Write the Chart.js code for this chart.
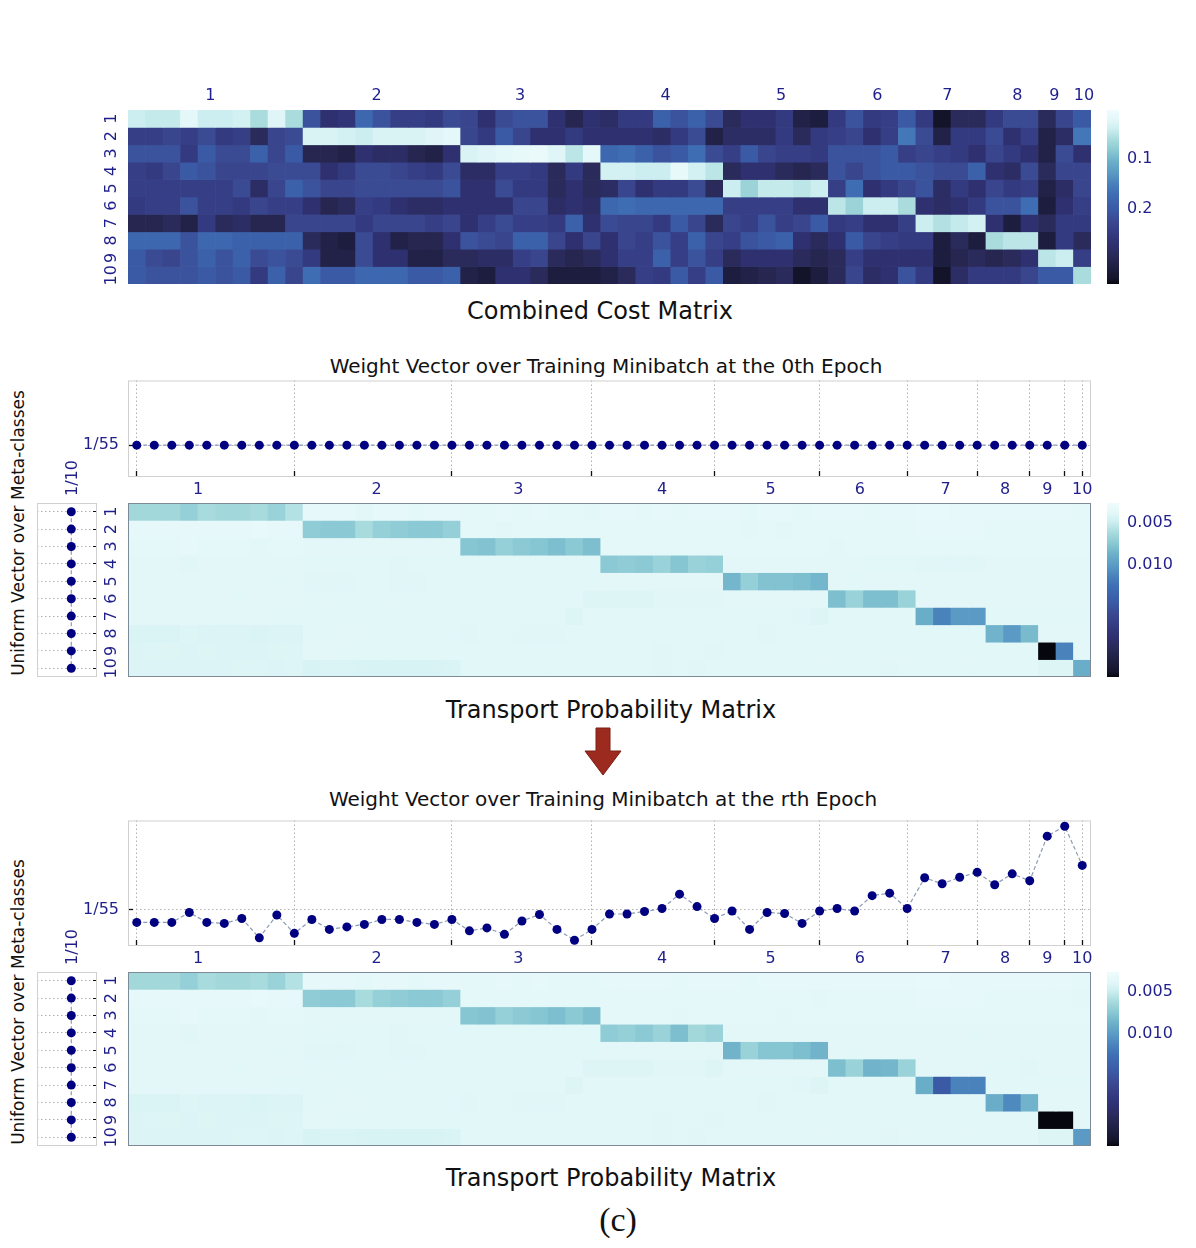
<!DOCTYPE html>
<html>
<head>
<meta charset="utf-8">
<title>Cost matrix, weight vectors and transport matrices</title>
<script src="https://cdn.jsdelivr.net/npm/chart.js@4.4.1/dist/chart.umd.min.js"></script>
<style>
body{margin:0;width:1196px;height:1248px;position:relative;background:#fff;font-family:"DejaVu Sans",sans-serif;overflow:hidden}
.pane{position:absolute}
.pane canvas{display:block}
.ttl{position:absolute;transform:translate(-50%,-50%);white-space:nowrap;color:#111}
.side{position:absolute;transform:translate(-50%,-50%) rotate(-90deg);white-space:nowrap;font-size:17px;color:#111}
</style>
</head>
<body>
<div class="ttl" style="left:600px;top:311px;font-size:24px">Combined Cost Matrix</div>
<div class="ttl" style="left:606px;top:366px;font-size:20px">Weight Vector over Training Minibatch at the 0th Epoch</div>
<div class="ttl" style="left:611px;top:710px;font-size:24px">Transport Probability Matrix</div>
<div class="ttl" style="left:603px;top:799px;font-size:20px">Weight Vector over Training Minibatch at the rth Epoch</div>
<div class="ttl" style="left:611px;top:1178px;font-size:24px">Transport Probability Matrix</div>
<div class="ttl" style="left:618px;top:1220px;font-size:34px;font-family:'Liberation Serif',serif">(c)</div>
<div class="side" style="left:18px;top:533px">Uniform Vector over Meta-classes</div>
<div class="side" style="left:18px;top:1002px">Uniform Vector over Meta-classes</div>
<svg style="position:absolute;left:580px;top:724px" width="46" height="56"><polygon points="16,4 30,4 30,27 41,27 23,51 5,27 16,27" fill="#9c2a1e" stroke="#7a1e14" stroke-width="1"/></svg>
<script>
// meta-classes and how many training samples of the minibatch fall in each
const groupLabels = ['1','2','3','4','5','6','7','8','9','10'];
const groupSizes = [10, 9, 8, 7, 6, 5, 4, 3, 2, 1];
const rowLabels = ['1','2','3','4','5','6','7','8','9','10'];
// where the group labels sit, in sample-index units
const costLabelPos = [4.2, 13.7, 21.9, 30.2, 36.8, 42.3, 46.3, 50.3, 52.4, 54.1];
const weightLabelPos = [3.5, 13.7, 21.8, 30.0, 36.2, 41.3, 46.2, 49.6, 52.0, 54.0];

// combined cost matrix (rows = meta-classes, 55 columns)
const costR1 = [.04,.045,.045,.02,.04,.04,.035,.06,.025,.06, .21,.27,.26,.18,.21,.24,.24,.25,.22, .23,.27,.22,.21,.21,.27,.30,.27, .28,.25,.25,.19,.21,.19,.22, .29,.27,.27,.25,.31,.32, .25,.21,.25,.24,.20, .25,.34,.29,.29, .25,.22,.22, .29,.23, .20];
const costR2 = [.24,.24,.23,.24,.22,.25,.24,.29,.23,.22, .03,.03,.035,.04,.03,.03,.03,.025,.02, .23,.25,.20,.23,.27,.27,.25,.27, .27,.27,.27,.28,.25,.22,.31, .28,.28,.28,.25,.29,.25, .24,.23,.27,.24,.16, .22,.31,.25,.25, .22,.27,.24, .31,.28, .16];
const costR3 = [.21,.21,.21,.25,.20,.22,.22,.19,.23,.20, .30,.30,.31,.27,.28,.28,.30,.31,.27, .03,.025,.02,.015,.01,.025,.05,.02, .18,.17,.19,.21,.20,.17,.22, .24,.20,.23,.24,.24,.25, .21,.21,.21,.20,.24, .23,.24,.25,.27, .23,.25,.27, .31,.22, .27];
const costR4 = [.24,.25,.23,.20,.21,.23,.23,.23,.22,.22, .22,.27,.25,.22,.22,.23,.24,.25,.22, .28,.28,.24,.24,.25,.29,.25,.29, .035,.035,.04,.04,.015,.035,.05, .29,.27,.27,.29,.30,.29, .21,.23,.21,.20,.20, .21,.22,.22,.19, .27,.28,.22, .29,.23, .23];
const costR5 = [.24,.24,.24,.24,.24,.24,.22,.28,.23,.19, .21,.23,.23,.22,.22,.22,.22,.22,.21, .27,.27,.22,.25,.25,.29,.27,.29, .28,.23,.27,.25,.25,.22,.29, .04,.07,.045,.045,.05,.04, .24,.17,.27,.25,.23, .21,.28,.25,.27, .23,.25,.24, .31,.28, .23];
const costR6 = [.25,.24,.24,.21,.24,.24,.25,.23,.24,.24, .27,.30,.29,.24,.25,.27,.28,.28,.27, .27,.27,.27,.23,.23,.28,.27,.28, .18,.17,.18,.18,.18,.18,.18, .24,.24,.24,.24,.27,.27, .05,.07,.04,.04,.06, .27,.28,.27,.25, .21,.21,.17, .32,.27, .24];
const costR7 = [.30,.30,.29,.31,.25,.29,.28,.30,.30,.23, .23,.23,.23,.25,.23,.23,.23,.24,.23, .27,.24,.22,.24,.24,.25,.19,.27, .22,.23,.23,.25,.20,.23,.29, .23,.24,.21,.24,.23,.20, .25,.24,.27,.27,.24, .04,.055,.045,.035, .27,.32,.27, .29,.25, .25];
const costR8 = [.18,.18,.18,.21,.18,.18,.19,.19,.19,.19, .29,.31,.32,.22,.27,.31,.30,.30,.27, .21,.22,.23,.19,.19,.23,.27,.23, .27,.23,.24,.21,.24,.19,.23, .24,.21,.20,.19,.27,.29, .27,.20,.23,.24,.25, .25,.32,.29,.32, .06,.05,.05, .32,.25, .29];
const costR9 = [.20,.22,.23,.21,.19,.21,.19,.22,.21,.22, .25,.31,.31,.22,.27,.27,.31,.31,.29, .29,.28,.28,.24,.23,.29,.30,.29, .27,.24,.24,.19,.24,.21,.24, .29,.27,.27,.27,.29,.30, .29,.24,.27,.27,.27, .27,.32,.30,.29, .30,.29,.27, .05,.04, .24];
const costR10 = [.20,.21,.21,.21,.20,.21,.20,.25,.19,.23, .17,.20,.20,.18,.18,.18,.20,.20,.19, .31,.32,.27,.27,.29,.32,.32,.32, .31,.29,.24,.25,.20,.24,.20, .32,.31,.30,.29,.34,.32, .29,.23,.28,.27,.21, .25,.34,.28,.25, .25,.25,.23, .20,.20, .06];
const costMin = 0.002, costMax = 0.35;
const costTicks = [0.1, 0.2];
const costTickLabels = ['0.1', '0.2'];

// weight vectors over the 55 training samples
const weight0 = [.01818,.01818,.01818,.01818,.01818,.01818,.01818,.01818,.01818,.01818, .01818,.01818,.01818,.01818,.01818,.01818,.01818,.01818,.01818, .01818,.01818,.01818,.01818,.01818,.01818,.01818,.01818, .01818,.01818,.01818,.01818,.01818,.01818,.01818, .01818,.01818,.01818,.01818,.01818,.01818, .01818,.01818,.01818,.01818,.01818, .01818,.01818,.01818,.01818, .01818,.01818,.01818, .01818,.01818, .01818];
const weightR = [.0156,.0156,.0156,.0176,.0156,.0154,.0164,.0125,.0171,.0134, .0162,.0142,.0147,.0152,.0162,.0162,.0156,.0152,.0162, .0139,.0145,.0132,.0159,.0172,.0142,.0120,.0142, .0173,.0173,.0178,.0184,.0213,.0188,.0164, .0179,.0142,.0176,.0174,.0154,.0179, .0184,.0179,.0210,.0215,.0184, .0246,.0234,.0247,.0257, .0232,.0254,.0240, .0330,.0350, .0271];
const weightTick = 1 / 55;
const weightTickLabel = '1/55';

// uniform vector over the 10 meta-classes
const uniformMeta = [0.1, 0.1, 0.1, 0.1, 0.1, 0.1, 0.1, 0.1, 0.1, 0.1];
const uniformTick = 0.1;
const uniformTickLabel = '1/10';

// transport probability matrix, 0th epoch
const p0R1 = [.0064,.0064,.0064,.0070,.0062,.0064,.0064,.0062,.0068,.0058, .0036,.0036,.0036,.0038,.0036,.0036,.0037,.0036,.0036, .0037,.0037,.0036,.0037,.0036,.0037,.0037,.0038, .0036,.0036,.0037,.0036,.0037,.0036,.0036, .0036,.0037,.0036,.0036,.0037,.0036, .0036,.0036,.0037,.0036,.0036, .0035,.0035,.0036,.0036, .0036,.0036,.0036, .0036,.0036, .0037];
const p0R2 = [.0036,.0036,.0036,.0036,.0036,.0036,.0036,.0035,.0036,.0036, .0072,.0074,.0074,.0062,.0070,.0072,.0074,.0074,.0070, .0037,.0037,.0038,.0037,.0037,.0037,.0037,.0037, .0037,.0037,.0037,.0037,.0037,.0037,.0037, .0037,.0038,.0037,.0038,.0037,.0037, .0037,.0037,.0037,.0037,.0037, .0036,.0036,.0036,.0036, .0037,.0037,.0037, .0037,.0037, .0037];
const p0R3 = [.0037,.0037,.0037,.0036,.0037,.0037,.0037,.0039,.0037,.0037, .0038,.0038,.0038,.0038,.0038,.0038,.0038,.0038,.0038, .0076,.0078,.0070,.0074,.0076,.0080,.0074,.0080, .0037,.0037,.0037,.0037,.0037,.0037,.0037, .0037,.0037,.0037,.0037,.0037,.0037, .0038,.0037,.0037,.0037,.0037, .0037,.0037,.0037,.0037, .0037,.0037,.0037, .0037,.0037, .0037];
const p0R4 = [.0038,.0038,.0038,.0040,.0038,.0038,.0038,.0038,.0038,.0038, .0039,.0039,.0039,.0039,.0039,.0040,.0039,.0039,.0039, .0039,.0039,.0039,.0039,.0039,.0039,.0039,.0039, .0074,.0072,.0074,.0068,.0076,.0068,.0070, .0038,.0038,.0038,.0038,.0038,.0038, .0038,.0038,.0039,.0039,.0039, .0040,.0040,.0040,.0040, .0038,.0038,.0038, .0038,.0038, .0038];
const p0R5 = [.0038,.0038,.0038,.0038,.0038,.0038,.0038,.0038,.0039,.0038, .0040,.0040,.0040,.0039,.0039,.0040,.0040,.0039,.0039, .0039,.0039,.0039,.0039,.0039,.0039,.0039,.0039, .0038,.0038,.0038,.0038,.0038,.0038,.0038, .0084,.0070,.0078,.0078,.0080,.0084, .0038,.0039,.0038,.0038,.0038, .0038,.0038,.0038,.0038, .0038,.0038,.0038, .0038,.0038, .0038];
const p0R6 = [.0038,.0038,.0038,.0038,.0038,.0038,.0039,.0038,.0038,.0038, .0039,.0039,.0039,.0039,.0039,.0039,.0039,.0039,.0039, .0039,.0039,.0039,.0039,.0039,.0039,.0039,.0041, .0041,.0041,.0041,.0040,.0040,.0040,.0040, .0038,.0038,.0038,.0038,.0038,.0038, .0080,.0068,.0080,.0080,.0068, .0038,.0038,.0038,.0038, .0038,.0038,.0038, .0038,.0038, .0038];
const p0R7 = [.0038,.0038,.0038,.0038,.0038,.0038,.0038,.0038,.0039,.0039, .0039,.0039,.0039,.0039,.0039,.0039,.0039,.0039,.0039, .0039,.0039,.0039,.0039,.0039,.0039,.0041,.0039, .0039,.0039,.0039,.0039,.0039,.0039,.0039, .0039,.0039,.0039,.0039,.0040,.0041, .0039,.0039,.0039,.0039,.0039, .0089,.0113,.0101,.0101, .0039,.0039,.0039, .0039,.0039, .0039];
const p0R8 = [.0043,.0043,.0043,.0041,.0042,.0042,.0042,.0043,.0042,.0042, .0039,.0039,.0038,.0039,.0039,.0039,.0039,.0039,.0039, .0040,.0039,.0039,.0040,.0040,.0040,.0039,.0039, .0039,.0039,.0039,.0039,.0039,.0039,.0039, .0039,.0039,.0040,.0039,.0039,.0039, .0039,.0039,.0039,.0039,.0039, .0039,.0039,.0039,.0039, .0086,.0101,.0082, .0038,.0038, .0038];
const p0R9 = [.0042,.0041,.0041,.0042,.0041,.0042,.0042,.0042,.0041,.0041, .0038,.0038,.0039,.0039,.0039,.0039,.0039,.0039,.0039, .0039,.0039,.0039,.0039,.0039,.0039,.0039,.0039, .0039,.0039,.0039,.0040,.0039,.0039,.0040, .0039,.0039,.0039,.0039,.0039,.0039, .0039,.0039,.0039,.0039,.0039, .0039,.0039,.0039,.0039, .0039,.0039,.0039, .0232,.0113, .0038];
const p0R10 = [.0042,.0042,.0042,.0042,.0042,.0042,.0041,.0041,.0042,.0041, .0044,.0043,.0043,.0044,.0044,.0044,.0044,.0044,.0043, .0039,.0039,.0039,.0039,.0039,.0039,.0039,.0039, .0039,.0039,.0039,.0040,.0039,.0040,.0039, .0039,.0039,.0039,.0039,.0039,.0039, .0039,.0039,.0039,.0040,.0039, .0039,.0039,.0039,.0039, .0039,.0039,.0039, .0041,.0041, .0089];

// transport probability matrix, rth epoch
const prR1 = [.0064,.0064,.0064,.0070,.0062,.0064,.0064,.0062,.0068,.0058, .0036,.0036,.0036,.0037,.0036,.0036,.0037,.0036,.0036, .0037,.0037,.0036,.0037,.0036,.0037,.0037,.0037, .0036,.0036,.0036,.0036,.0037,.0036,.0036, .0036,.0037,.0036,.0036,.0036,.0036, .0036,.0036,.0036,.0036,.0036, .0035,.0035,.0036,.0036, .0036,.0036,.0036, .0036,.0036, .0037];
const prR2 = [.0036,.0036,.0036,.0036,.0036,.0036,.0036,.0035,.0036,.0036, .0072,.0074,.0074,.0062,.0070,.0072,.0074,.0074,.0070, .0037,.0037,.0037,.0037,.0037,.0037,.0037,.0037, .0037,.0037,.0037,.0037,.0037,.0037,.0037, .0037,.0037,.0037,.0037,.0037,.0038, .0037,.0037,.0037,.0037,.0037, .0036,.0036,.0036,.0036, .0037,.0037,.0037, .0037,.0037, .0038];
const prR3 = [.0037,.0037,.0037,.0036,.0037,.0037,.0037,.0039,.0037,.0037, .0038,.0038,.0038,.0038,.0038,.0038,.0038,.0038,.0038, .0076,.0078,.0070,.0074,.0076,.0080,.0074,.0080, .0037,.0037,.0037,.0037,.0038,.0037,.0037, .0037,.0037,.0037,.0038,.0037,.0037, .0037,.0037,.0037,.0037,.0037, .0037,.0037,.0037,.0037, .0037,.0037,.0037, .0037,.0037, .0037];
const prR4 = [.0038,.0038,.0038,.0040,.0038,.0038,.0038,.0038,.0038,.0038, .0039,.0039,.0039,.0039,.0039,.0040,.0039,.0039,.0039, .0039,.0039,.0039,.0039,.0039,.0039,.0039,.0039, .0072,.0070,.0074,.0068,.0080,.0064,.0068, .0038,.0038,.0038,.0038,.0038,.0038, .0038,.0038,.0038,.0038,.0038, .0038,.0038,.0038,.0039, .0038,.0038,.0038, .0038,.0038, .0038];
const prR5 = [.0038,.0038,.0038,.0038,.0038,.0038,.0038,.0038,.0039,.0038, .0040,.0040,.0040,.0039,.0039,.0040,.0040,.0039,.0039, .0039,.0039,.0039,.0039,.0039,.0039,.0039,.0039, .0038,.0038,.0038,.0038,.0038,.0038,.0038, .0086,.0068,.0076,.0076,.0080,.0086, .0038,.0039,.0038,.0038,.0038, .0038,.0038,.0038,.0038, .0038,.0038,.0038, .0038,.0038, .0038];
const prR6 = [.0038,.0038,.0038,.0038,.0038,.0038,.0039,.0038,.0038,.0038, .0039,.0039,.0039,.0039,.0039,.0039,.0039,.0039,.0039, .0039,.0039,.0039,.0039,.0039,.0039,.0039,.0041, .0041,.0041,.0041,.0040,.0040,.0040,.0041, .0038,.0038,.0038,.0038,.0038,.0038, .0080,.0068,.0086,.0084,.0068, .0038,.0038,.0038,.0038, .0039,.0039,.0040, .0038,.0038, .0038];
const prR7 = [.0038,.0038,.0038,.0038,.0038,.0038,.0038,.0038,.0039,.0039, .0039,.0039,.0039,.0039,.0039,.0039,.0039,.0039,.0039, .0039,.0039,.0039,.0039,.0039,.0039,.0041,.0039, .0039,.0039,.0039,.0039,.0039,.0039,.0039, .0039,.0039,.0039,.0039,.0040,.0041, .0039,.0039,.0039,.0039,.0039, .0089,.0144,.0113,.0113, .0039,.0039,.0039, .0039,.0039, .0039];
const prR8 = [.0043,.0043,.0043,.0041,.0042,.0042,.0042,.0043,.0042,.0042, .0039,.0039,.0038,.0039,.0039,.0039,.0039,.0039,.0039, .0040,.0039,.0039,.0040,.0040,.0040,.0039,.0039, .0039,.0039,.0039,.0039,.0039,.0039,.0039, .0039,.0039,.0040,.0039,.0039,.0039, .0039,.0039,.0039,.0039,.0039, .0039,.0039,.0039,.0039, .0089,.0109,.0086, .0038,.0038, .0038];
const prR9 = [.0042,.0041,.0041,.0042,.0041,.0042,.0042,.0042,.0041,.0041, .0038,.0038,.0039,.0039,.0039,.0039,.0039,.0039,.0039, .0039,.0039,.0039,.0039,.0039,.0039,.0039,.0039, .0039,.0039,.0039,.0040,.0039,.0039,.0040, .0039,.0039,.0039,.0039,.0039,.0039, .0039,.0039,.0039,.0039,.0039, .0039,.0039,.0039,.0039, .0039,.0039,.0039, .0232,.0232, .0038];
const prR10 = [.0042,.0042,.0042,.0042,.0042,.0042,.0041,.0041,.0042,.0041, .0044,.0043,.0043,.0044,.0044,.0044,.0044,.0044,.0043, .0039,.0039,.0039,.0039,.0039,.0039,.0039,.0039, .0039,.0039,.0039,.0040,.0039,.0040,.0039, .0039,.0039,.0039,.0039,.0039,.0039, .0039,.0039,.0039,.0040,.0039, .0039,.0039,.0039,.0039, .0039,.0039,.0039, .0041,.0041, .0101];
const probMin = 0.0027, probMax = 0.0232;
const probTicks = [0.005, 0.010];
const probTickLabels = ['0.005', '0.010'];

const costRows = [costR1,costR2,costR3,costR4,costR5,costR6,costR7,costR8,costR9,costR10];
const prob0Rows = [p0R1,p0R2,p0R3,p0R4,p0R5,p0R6,p0R7,p0R8,p0R9,p0R10];
const probRRows = [prR1,prR2,prR3,prR4,prR5,prR6,prR7,prR8,prR9,prR10];

// sample labels and the last sample of each group, from the group sizes
const memberLabels = groupSizes.flatMap((n, g) => Array.from({length: n}, (_, k) => groupLabels[g] + '.' + (k + 1)));
const boundaries = [0];
let acc = 0;
groupSizes.forEach(n => { acc += n; boundaries.push(acc - 1); });

// reversed "ice"-like colour map
const iceStops = [[0,'#effcfd'],[0.05,'#e5f8f9'],[0.11,'#cdeef0'],[0.17,'#a8dbdd'],[0.24,'#86c6d2'],[0.30,'#6aaec8'],[0.36,'#5a9ac4'],[0.42,'#4a82bc'],[0.48,'#3e6eb4'],[0.57,'#3b5aa6'],[0.64,'#3a4890'],[0.71,'#343a80'],[0.77,'#2e3070'],[0.83,'#2a2a5a'],[0.91,'#1e1e40'],[0.97,'#14142a'],[1,'#06060e']];
function hex(h){ return [1,3,5].map(i => parseInt(h.slice(i, i + 2), 16)); }
function ice(t){
  t = Math.max(0, Math.min(1, t));
  for (let i = 1; i < iceStops.length; i++) {
    if (t <= iceStops[i][0]) {
      const [t0, c0] = iceStops[i - 1], [t1, c1] = iceStops[i];
      const f = (t - t0) / (t1 - t0), a = hex(c0), b = hex(c1);
      return 'rgb(' + a.map((x, k) => Math.round(x + (b[k] - x) * f)).join(',') + ')';
    }
  }
  return iceStops[iceStops.length - 1][1];
}

Chart.defaults.font.family = '"DejaVu Sans", sans-serif';
Chart.defaults.font.size = 16;
Chart.defaults.color = '#1f1f8c';
Chart.defaults.animation = false;
Chart.defaults.maintainAspectRatio = false;
Chart.defaults.plugins.legend.display = false;
Chart.defaults.plugins.tooltip.enabled = false;

Chart.register({
  id: 'frame',
  afterDraw(chart, args, opts){
    if (!opts.color) return;
    const {ctx, chartArea: a} = chart;
    ctx.save();
    ctx.strokeStyle = opts.color;
    ctx.lineWidth = 1;
    ctx.strokeRect(a.left + 0.5, a.top + 0.5, a.width - 1, a.height - 1);
    ctx.restore();
  }
});

function pane(left, top, width, height){
  const d = document.createElement('div');
  d.className = 'pane';
  d.style.cssText = `left:${left}px;top:${top}px;width:${width}px;height:${height}px`;
  const c = document.createElement('canvas');
  d.appendChild(c);
  document.body.appendChild(d);
  return c;
}
const fixW = w => s => { s.width = w; s.paddingTop = 0; s.paddingBottom = 0; };
const fixH = h => s => { s.height = h; s.paddingLeft = 0; s.paddingRight = 0; };
const dotted = [1.5, 2.5];

function groupAxis(position, height, padding, positions){
  return {
    type: 'linear', axis: 'x', position, min: -0.5, max: 54.5, offset: false, bounds: 'data',
    afterBuildTicks: s => { s.ticks = positions.map(v => ({value: v})); },
    ticks: {callback: (v, i) => groupLabels[i], minRotation: 0, maxRotation: 0, autoSkip: false, padding},
    grid: {display: false, drawTicks: false, offset: false}, border: {display: false},
    afterFit: fixH(height)
  };
}

function heatmap(canvas, rows, vmin, vmax, topLabels, frameColor, padTop, padBottom){
  const scales = {
    x: {type: 'category', display: false},
    y: {
      type: 'linear', min: 0.5, max: 10.5, reverse: true,
      afterBuildTicks: s => { s.ticks = rowLabels.map((_, i) => ({value: i + 1})); },
      ticks: {callback: (v, i) => rowLabels[i], minRotation: 90, maxRotation: 90, crossAlign: 'center', padding: 6, autoSkip: false},
      grid: {display: false, drawTicks: false}, border: {display: false},
      afterFit: fixW(40)
    }
  };
  if (topLabels) scales.xl = groupAxis('top', 28, 5, costLabelPos);
  new Chart(canvas, {
    type: 'bar',
    data: {
      labels: memberLabels,
      datasets: rows.map((vals, r) => ({
        data: vals.map(() => [r + 0.5, r + 1.5]),
        backgroundColor: vals.map(v => ice((v - vmin) / (vmax - vmin))),
        borderWidth: 0, barPercentage: 1, categoryPercentage: 1, grouped: false
      }))
    },
    options: {
      layout: {padding: {left: 0, top: padTop, right: 3, bottom: padBottom}},
      plugins: {frame: {color: frameColor}},
      scales
    }
  });
}

function colorbar(canvas, vmin, vmax, ticks, labels){
  new Chart(canvas, {
    type: 'bar',
    data: {labels: [''], datasets: [{
      data: [[vmin, vmax]], borderWidth: 0, barPercentage: 1, categoryPercentage: 1,
      backgroundColor: c => {
        const a = c.chart.chartArea;
        if (!a) return '#fff';
        const g = c.chart.ctx.createLinearGradient(0, a.top, 0, a.bottom);
        iceStops.forEach(([t, col]) => g.addColorStop(t, col));
        return g;
      }
    }]},
    options: {
      layout: {padding: {left: 7, top: 4, right: 0, bottom: 4}},
      scales: {
        x: {display: false},
        y: {
          position: 'right', min: vmin, max: vmax, reverse: true,
          afterBuildTicks: s => { s.ticks = ticks.map(v => ({value: v})); },
          ticks: {callback: (v, i) => labels[i], padding: 14},
          grid: {drawOnChartArea: false, tickColor: '#111', tickLength: -6, tickWidth: 1.5},
          border: {display: false},
          afterFit: fixW(77)
        }
      }
    }
  });
}

function weightChart(canvas, values, yMin, yMax){
  new Chart(canvas, {
    type: 'line',
    data: {labels: memberLabels, datasets: [{
      data: values, borderColor: '#8c9cb2', borderWidth: 1.2, borderDash: [4, 2.5],
      pointRadius: 4.5, pointHoverRadius: 4.5, pointBackgroundColor: '#000080', pointBorderWidth: 0, tension: 0
    }]},
    options: {
      layout: {padding: {left: 0, top: 4, right: 5, bottom: 0}},
      plugins: {frame: {color: '#d0d0d0'}},
      scales: {
        x: {
          type: 'category', offset: true,
          ticks: {display: false, autoSkip: false},
          grid: {
            color: c => boundaries.includes(c.index) ? '#b0b0b0' : 'rgba(0,0,0,0)',
            tickColor: c => boundaries.includes(c.index) ? '#111' : 'rgba(0,0,0,0)',
            tickLength: -6, tickWidth: 1.3, borderDash: dotted
          },
          border: {display: false, dash: dotted},
          afterFit: fixH(0)
        },
        xl: groupAxis('bottom', 27, 3, weightLabelPos),
        y: {
          min: yMin, max: yMax,
          afterBuildTicks: s => { s.ticks = [{value: weightTick}]; },
          ticks: {callback: () => weightTickLabel, padding: 14},
          grid: {color: '#b0b0b0', tickColor: '#111', tickLength: -5, tickWidth: 1.3, borderDash: dotted},
          border: {display: false, dash: dotted},
          afterFit: fixW(68)
        }
      }
    }
  });
}

function uniformChart(canvas){
  new Chart(canvas, {
    type: 'scatter',
    data: {datasets: [{
      data: uniformMeta.map((w, i) => ({x: w, y: i + 1})), showLine: true,
      borderColor: '#8c9cb2', borderWidth: 1.2, borderDash: [4, 2.5],
      pointRadius: 4.5, pointHoverRadius: 4.5, pointBackgroundColor: '#000080', pointBorderWidth: 0
    }]},
    options: {
      layout: {padding: {left: 7, top: 0, right: 9, bottom: 5}},
      plugins: {frame: {color: '#d0d0d0'}},
      scales: {
        x: {
          type: 'linear', position: 'top', min: 0.04, max: 0.145,
          afterBuildTicks: s => { s.ticks = [{value: uniformTick}]; },
          ticks: {callback: () => uniformTickLabel, minRotation: 90, maxRotation: 90, padding: 7, labelOffset: 21},
          grid: {display: false, drawTicks: false}, border: {display: false},
          afterFit: fixH(53)
        },
        y: {
          type: 'linear', position: 'right', min: 0.5, max: 10.5, reverse: true,
          afterBuildTicks: s => { s.ticks = rowLabels.map((_, i) => ({value: i + 1})); },
          ticks: {display: false},
          grid: {color: '#b0b0b0', tickColor: '#111', tickLength: -4, borderDash: dotted},
          border: {display: false, dash: dotted},
          afterFit: fixW(0)
        }
      }
    }
  });
}

// combined cost matrix
heatmap(pane(88, 82, 1006, 206), costRows, costMin, costMax, true, null, 0, 4);
colorbar(pane(1100, 106, 96, 182), costMin, costMax, costTicks, costTickLabels);

// 0th epoch
weightChart(pane(60, 376, 1036, 128), weight0, 0.01158, 0.03158);
uniformChart(pane(30, 450, 76, 232));
heatmap(pane(88, 500, 1006, 180), prob0Rows, probMin, probMax, false, '#7d8b99', 3, 3);
colorbar(pane(1100, 499, 96, 182), probMin, probMax, probTicks, probTickLabels);

// rth epoch
weightChart(pane(60, 816, 1036, 157), weightR, 0.01085, 0.03615);
uniformChart(pane(30, 919, 76, 232));
heatmap(pane(88, 969, 1006, 180), probRRows, probMin, probMax, false, '#7d8b99', 3, 3);
colorbar(pane(1100, 968, 96, 182), probMin, probMax, probTicks, probTickLabels);
</script>
</body>
</html>
